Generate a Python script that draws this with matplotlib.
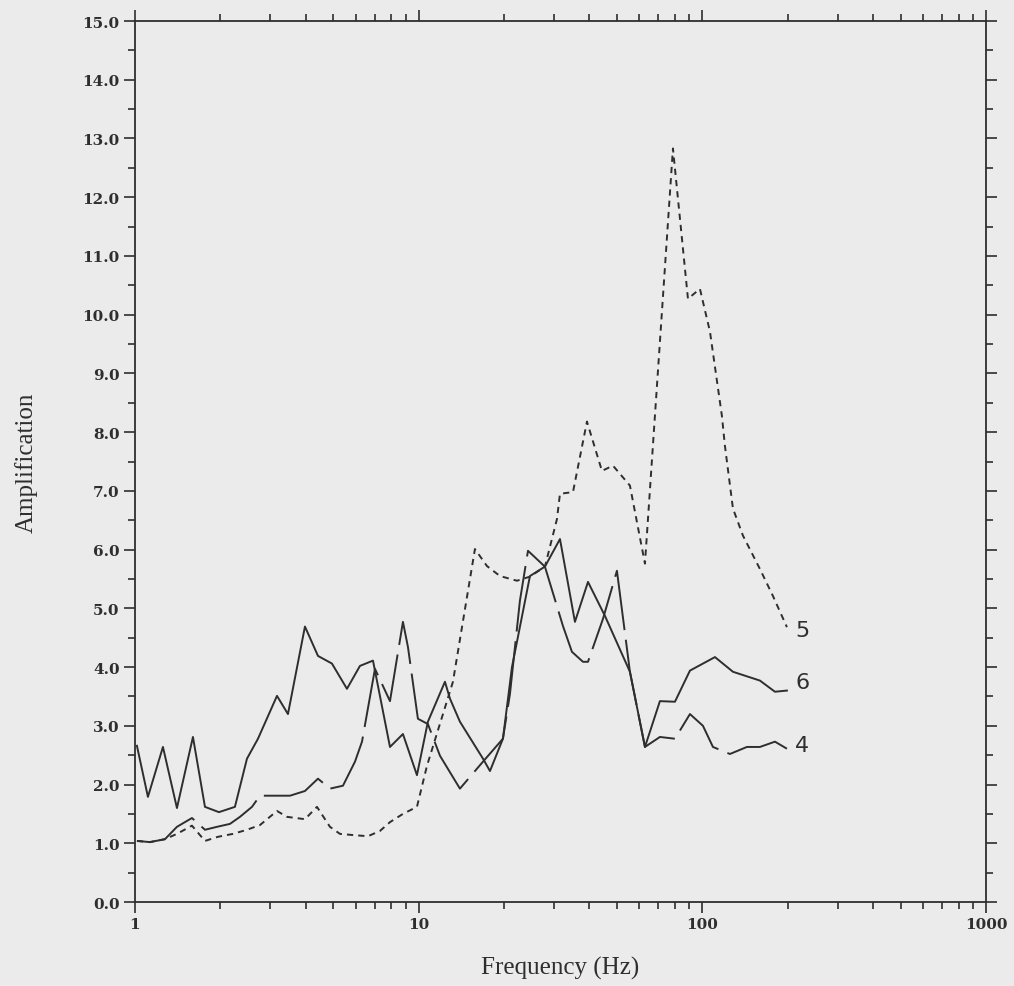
import numpy as np
import matplotlib
matplotlib.use("Agg")
import matplotlib.pyplot as plt
from matplotlib.ticker import FixedLocator, FixedFormatter, MultipleLocator, FormatStrFormatter

# curve 5 (short dashes)
freq_5 = [1.016, 1.129, 1.276, 1.406, 1.588, 1.765, 1.961, 2.215, 2.482, 2.758,
          3.167, 3.435, 3.974, 4.381, 4.868, 5.28, 5.868, 6.627, 7.305, 7.924,
          8.803, 9.863, 10.70, 13.21, 15.79, 17.41, 19.35, 22.21, 24.68, 27.87,
          30.73, 31.49, 35.0, 39.20, 44.27, 48.41, 55.56, 62.77, 78.78, 88.99,
          98.07, 106.4, 117.2, 120.1, 128.2, 139.0, 159.6, 177.4, 198.7]
amp_5 = [1.04, 1.02, 1.07, 1.16, 1.30, 1.04, 1.11, 1.16, 1.23, 1.31,
         1.55, 1.45, 1.41, 1.62, 1.28, 1.16, 1.14, 1.12, 1.21, 1.36,
         1.50, 1.62, 2.32, 3.75, 6.01, 5.72, 5.55, 5.47, 5.54, 5.71,
         6.52, 6.95, 6.98, 8.18, 7.34, 7.43, 7.09, 5.76, 12.83, 10.27,
         10.44, 9.71, 8.28, 7.77, 6.70, 6.24, 5.67, 5.21, 4.68]

# curve 6 (solid)
freq_6 = [1.016, 1.111, 1.255, 1.406, 1.601, 1.765, 1.977, 2.251, 2.482, 2.714,
          3.167, 3.462, 3.974, 4.417, 4.947, 5.588, 6.211, 6.903, 7.924, 8.803,
          9.863, 10.78, 12.38, 12.90, 13.98, 16.86, 17.84, 19.82, 21.33, 24.68,
          27.87, 31.49, 35.56, 39.53, 45.38, 55.56, 62.77, 70.87, 80.07, 90.44,
          110.8, 128.2, 159.6, 180.3, 198.7]
amp_6 = [2.66, 1.79, 2.64, 1.60, 2.81, 1.62, 1.53, 1.62, 2.44, 2.78,
         3.51, 3.20, 4.69, 4.19, 4.06, 3.63, 4.02, 4.11, 2.64, 2.86,
         2.16, 3.07, 3.75, 3.46, 3.07, 2.44, 2.23, 2.78, 4.00, 5.55,
         5.71, 6.18, 4.77, 5.45, 4.87, 3.92, 2.64, 3.42, 3.41, 3.94,
         4.17, 3.92, 3.77, 3.58, 3.60]

# curve 4 (long dashes)
freq_4 = [1.016, 1.129, 1.276, 1.406, 1.588, 1.765, 1.946, 2.162, 2.345, 2.585,
          2.758, 3.52, 3.974, 4.417, 4.868, 5.41, 5.965, 6.314, 7.015, 7.924,
          8.803, 9.17, 9.94, 10.78, 11.89, 13.98, 16.86, 19.82, 20.98, 22.75,
          24.29, 27.87, 32.26, 34.70, 37.94, 39.53, 44.64, 50.0, 55.56, 62.77,
          70.87, 80.07, 90.44, 100.5, 109.0, 125.1, 143.6, 159.6, 180.3, 198.7]
amp_4 = [1.04, 1.02, 1.07, 1.28, 1.43, 1.23, 1.28, 1.33, 1.45, 1.62,
         1.81, 1.81, 1.89, 2.10, 1.93, 1.98, 2.39, 2.73, 3.97, 3.42,
         4.77, 4.34, 3.12, 3.03, 2.49, 1.93, 2.39, 2.78, 3.54, 5.13,
         5.98, 5.71, 4.70, 4.26, 4.09, 4.09, 4.82, 5.64, 3.92, 2.64,
         2.81, 2.78, 3.20, 3.00, 2.64, 2.52, 2.64, 2.64, 2.73, 2.61]

x_ticks = [1, 10, 100, 1000]
x_labels = ["1", "10", "100", "1000"]

bg = "#ebebeb"
ink = "#2e2e2e"

fig = plt.figure(figsize=(10.14, 9.87), dpi=100, facecolor=bg)
ax = fig.add_axes([0.1331, 0.0851, 0.8393, 0.8926], facecolor=bg)

ax.plot(freq_5, amp_5, color=ink, lw=1.4, linestyle=(0, (3.2, 2.6)))
ax.plot(freq_6, amp_6, color=ink, lw=1.4, linestyle="-")
ax.plot(freq_4, amp_4, color=ink, lw=1.4, linestyle=(0, (34, 5)))

# curve labels at right ends
for f, a, lab, dy in [(freq_5, amp_5, "5", -2), (freq_6, amp_6, "6", 6), (freq_4, amp_4, "4", 3)]:
    ax.annotate(lab, (f[-1], a[-1]), xytext=(6, dy), textcoords="offset points",
                va="center", ha="left", fontsize=16, color=ink, family="DejaVu Sans")

ax.set_xscale("log")
ax.set_xlim(1, 1000)
ax.set_ylim(0, 15)

ax.xaxis.set_major_locator(FixedLocator(x_ticks))
ax.xaxis.set_major_formatter(FixedFormatter(x_labels))
ax.xaxis.set_minor_locator(matplotlib.ticker.LogLocator(base=10, subs=np.arange(2, 10)))
ax.xaxis.set_minor_formatter(matplotlib.ticker.NullFormatter())
ax.yaxis.set_major_locator(MultipleLocator(1.0))
ax.yaxis.set_minor_locator(MultipleLocator(0.5))
ax.yaxis.set_major_formatter(FormatStrFormatter("%.1f"))

ax.tick_params(which="both", direction="out", top=True, right=True, colors=ink, width=1.2)
ax.tick_params(which="major", length=8)
ax.tick_params(which="minor", length=5)
ax.tick_params(axis="both", labelsize=11, pad=3)
for lbl in ax.get_xticklabels() + ax.get_yticklabels():
    lbl.set_family("DejaVu Serif")
    lbl.set_fontweight("bold")

for sp in ax.spines.values():
    sp.set_color(ink)
    sp.set_linewidth(1.3)

ax.set_xlabel("Frequency (Hz)", fontsize=18, family="Liberation Serif", color=ink, labelpad=18)
ax.set_ylabel("Amplification", fontsize=18, family="Liberation Serif", color=ink, labelpad=32)

fig.savefig("out.png", dpi=100, facecolor=bg)
